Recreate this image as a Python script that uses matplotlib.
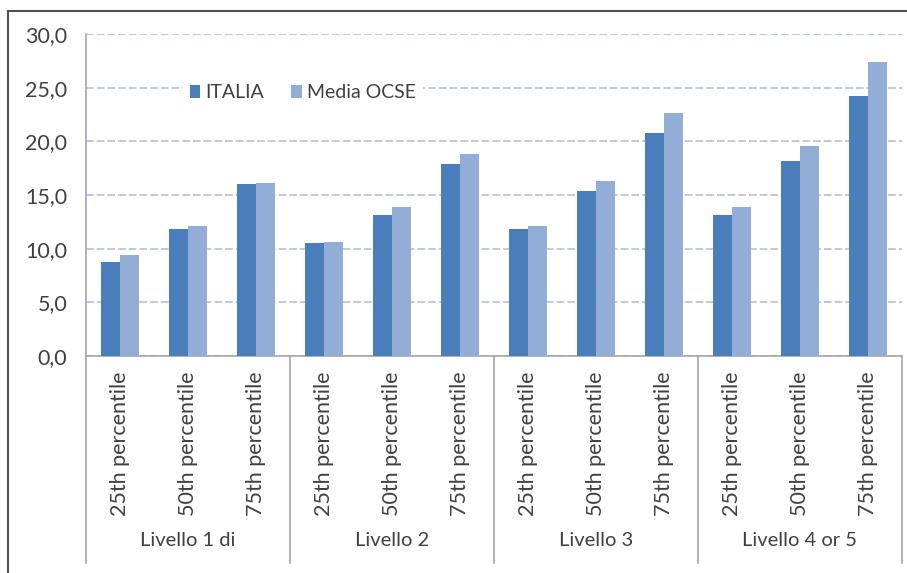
import matplotlib
matplotlib.use("Agg")
import matplotlib.pyplot as plt
from matplotlib.lines import Line2D
from matplotlib.transforms import blended_transform_factory
import numpy as np

# Data
groups = ["Livello 1 di", "Livello 2", "Livello 3", "Livello 4 or 5"]
percentiles = ["25th percentile", "50th percentile", "75th percentile"]
series_names = ["ITALIA", "Media OCSE"]
italia = [8.8, 11.8, 16.0, 10.5, 13.1, 17.9, 11.8, 15.4, 20.8, 13.1, 18.2, 24.2]
media_ocse = [9.4, 12.1, 16.1, 10.6, 13.9, 18.8, 12.1, 16.3, 22.6, 13.9, 19.6, 27.4]
y_ticks = [0, 5, 10, 15, 20, 25, 30]

plt.rcParams["font.family"] = ["Lato", "DejaVu Sans"]
TEXT = "#404040"
FS = 15.5

W, H = 907, 573
fig = plt.figure(figsize=(W / 100, H / 100), dpi=100)
# plot area in pixels: x 86..902, y 34..356
ax = fig.add_axes([86 / W, 1 - 356 / H, (902 - 86) / W, (356 - 34) / H])

n = len(groups) * len(percentiles)
x = np.arange(n)
bw = 0.28
c_ita = "#4A7EBB"
c_ocse = "#93AED6"
ax.bar(x - bw / 2, italia, width=bw, color=c_ita, label=series_names[0], zorder=3)
ax.bar(x + bw / 2, media_ocse, width=bw, color=c_ocse, label=series_names[1], zorder=3)

ax.set_xlim(-0.5, n - 0.5)
ax.set_ylim(0, 30)
ax.set_yticks(y_ticks)
ax.set_yticklabels([f"{v:.1f}".replace(".", ",") for v in y_ticks], fontsize=FS, color=TEXT)
ax.tick_params(axis="y", length=0, pad=13.5)
ax.yaxis.grid(True, color="#A9BAD6", linestyle=(0, (5, 2)), linewidth=1.1, zorder=0)
ax.set_axisbelow(True)

ax.set_xticks(x)
ax.set_xticklabels(percentiles * len(groups), rotation=90, fontsize=FS, color=TEXT, va="top")
ax.tick_params(axis="x", length=0, pad=11)

for s in ("top", "right"):
    ax.spines[s].set_visible(False)
for s in ("left", "bottom"):
    ax.spines[s].set_color("#A6A6A6")
    ax.spines[s].set_linewidth(1.2)

# group separators below the axis and group labels
trans = blended_transform_factory(ax.transData, ax.transAxes)
y_low = -(563 - 356) / (356 - 34)
for k in range(len(groups) + 1):
    xs = k * len(percentiles) - 0.5
    ax.add_line(Line2D([xs, xs], [0, y_low], transform=trans, color="#A6A6A6",
                       linewidth=1.2, clip_on=False))
y_lab = -(541 - 356) / (356 - 34)
for k, g in enumerate(groups):
    xc = k * len(percentiles) + 1
    ax.text(xc, y_lab, g, transform=trans, ha="center", va="center",
            fontsize=14.5, color=TEXT)

leg = ax.legend(loc="center left", bbox_to_anchor=(173 / W, 1 - 93 / H),
                bbox_transform=fig.transFigure, ncol=2, frameon=True,
                fancybox=False, framealpha=1, facecolor="white", edgecolor="white",
                fontsize=14, handlelength=0.55, handleheight=0.6, handletextpad=0.25,
                columnspacing=1.4, borderpad=0.35)
for t in leg.get_texts():
    t.set_color(TEXT)

# outer frame
frame_c = "#505050"
fig.add_artist(Line2D([8 / W, 8 / W], [0, 1 - 11 / H], transform=fig.transFigure,
                      color=frame_c, linewidth=1.5))
fig.add_artist(Line2D([8 / W, 1], [1 - 11 / H, 1 - 11 / H], transform=fig.transFigure,
                      color=frame_c, linewidth=1.5))

fig.savefig("out.png", dpi=100)
